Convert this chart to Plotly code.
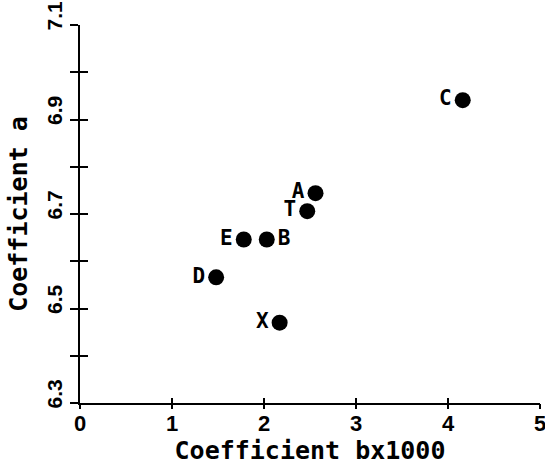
import plotly.graph_objects as go

# Data
labels = ["C", "A", "T", "E", "B", "D", "X"]
coef_b = [4.16, 2.56, 2.47, 1.78, 2.03, 1.48, 2.17]
coef_a = [6.941, 6.744, 6.706, 6.646, 6.646, 6.566, 6.470]
label_pos = ["middle left", "middle left", "middle left", "middle left",
             "middle right", "middle left", "middle left"]

x_ticks = [0, 1, 2, 3, 4, 5]
y_ticks = [6.3, 6.4, 6.5, 6.6, 6.7, 6.8, 6.9, 7.0, 7.1]
y_tick_text = ["6.3", "", "6.5", "", "6.7", "", "6.9", "", "7.1"]

FONT = "DejaVu Sans Mono"
TICKFONT = "Liberation Sans"

fig = go.Figure()
fig.add_trace(go.Scatter(
    x=coef_b, y=coef_a, mode="markers+text",
    text=labels, textposition=label_pos,
    marker=dict(size=16, color="black"),
    textfont=dict(family=FONT, size=21, color="black", weight="bold"),
    showlegend=False, cliponaxis=False,
))
# invisible trace for the overlay axes (other halves of cross ticks)
fig.add_trace(go.Scatter(x=[None], y=[None], xaxis="x2", yaxis="y2",
                         showlegend=False, hoverinfo="skip"))

fig.update_layout(
    width=545, height=472,
    margin=dict(l=80, r=5, t=25, b=69),
    paper_bgcolor="white", plot_bgcolor="white",
    font=dict(family=FONT, color="black"),
    xaxis=dict(
        range=[0, 5], tickvals=x_ticks, ticktext=[str(v) for v in x_ticks],
        automargin=False, ticklabeloverflow="allow",
        showgrid=False, zeroline=False, showline=True, linecolor="black", linewidth=2,
        ticks="inside", ticklen=5, tickwidth=2, tickcolor="black",
        tickfont=dict(family=TICKFONT, size=22, weight="bold"),
        title=dict(text="Coefficient bx1000", standoff=6,
                   font=dict(family=FONT, size=25, weight="bold")),
    ),
    yaxis=dict(
        range=[6.3, 7.1], tickvals=y_ticks, ticktext=y_tick_text,
        automargin=False, ticklabeloverflow="allow",
        showgrid=False, zeroline=False, showline=True, linecolor="black", linewidth=2,
        ticks="outside", ticklen=8, tickwidth=2, tickcolor="black",
        tickangle=-90, ticklabelshift=-6,
        tickfont=dict(family=TICKFONT, size=21, weight="bold"),
        title=dict(text="Coefficient a", standoff=8,
                   font=dict(family=FONT, size=25, weight="bold")),
    ),
    xaxis2=dict(
        range=[0, 5], tickvals=x_ticks, overlaying="x", anchor="y2", side="bottom",
        automargin=False,
        showticklabels=False, showgrid=False, zeroline=False, showline=False,
        ticks="outside", ticklen=5, tickwidth=2, tickcolor="black",
    ),
    yaxis2=dict(
        range=[6.3, 7.1], tickvals=y_ticks, overlaying="y", anchor="x2", side="left",
        automargin=False,
        showticklabels=False, showgrid=False, zeroline=False, showline=False,
        ticks="inside", ticklen=8, tickwidth=2, tickcolor="black",
    ),
)

fig.write_html("out.html", config={"displayModeBar": False},
               post_script="document.body.style.margin='0';")
